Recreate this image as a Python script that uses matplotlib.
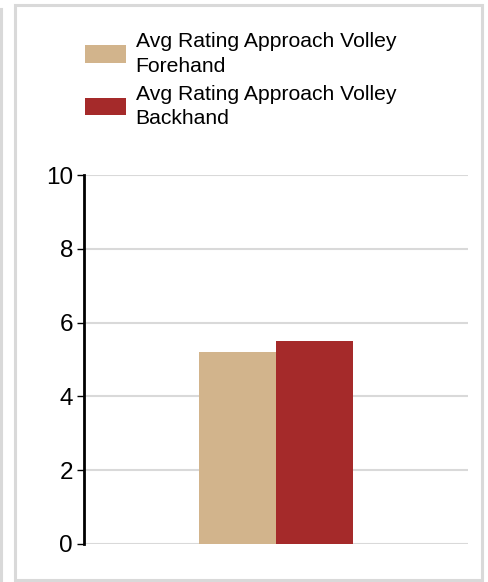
import matplotlib
matplotlib.use("Agg")
import matplotlib.pyplot as plt
from matplotlib.patches import Rectangle
from matplotlib.lines import Line2D

plt.rcParams['font.family'] = ['Liberation Sans', 'DejaVu Sans']

categories = [""]
series_names = ["Avg Rating Approach Volley\nForehand", "Avg Rating Approach Volley\nBackhand"]
series_values = [[5.2], [5.5]]
colors = ["#D2B48C", "#A52A2A"]
yticks = [0, 2, 4, 6, 8, 10]

W, H = 489, 582
fig = plt.figure(figsize=(W / 100, H / 100), dpi=100)

# outer frames
fig.add_artist(Rectangle((15.5 / W, 1 - 579.5 / H), (482.5 - 15.5) / W, (579.5 - 4.5) / H,
                         transform=fig.transFigure, fill=False, edgecolor="#d9d9d9", linewidth=2.2))
fig.add_artist(Line2D([1.5 / W, 1.5 / W], [0, 1 - 9 / H], transform=fig.transFigure,
                      color="#d9d9d9", linewidth=2.2))

ax = fig.add_axes([84 / W, 1 - 544 / H, (468 - 84) / W, (544 - 175) / H])
bw = 0.2
for i, (name, vals, c) in enumerate(zip(series_names, series_values, colors)):
    xs = [k + (i - 0.5) * bw for k in range(len(categories))]
    ax.bar(xs, vals, width=bw, color=c, label=name, zorder=3)

ax.set_xlim(-0.5, 0.5)
ax.set_ylim(0, 10)
ax.set_yticks(yticks)
ax.set_yticklabels([str(t) for t in yticks], fontsize=17.5)
ax.set_xticks([])
ax.grid(axis="y", color="#d9d9d9", linewidth=1.5, zorder=0)
ax.set_axisbelow(True)
for s in ["top", "right", "bottom"]:
    ax.spines[s].set_visible(False)
ax.spines["left"].set_linewidth(2)
ax.spines["left"].set_color("black")
ax.tick_params(axis="y", length=5, width=1, color="black", pad=3)

leg = fig.legend(loc="upper left", bbox_to_anchor=(85 / W, 1 - 32 / H), frameon=False,
                 fontsize=15.2, handlelength=1.95, handleheight=0.87, handletextpad=0.45,
                 labelspacing=0.42, borderaxespad=0, borderpad=0)
for t in leg.get_texts():
    t.set_linespacing(1.38)
plt.savefig("out.png", dpi=100)
